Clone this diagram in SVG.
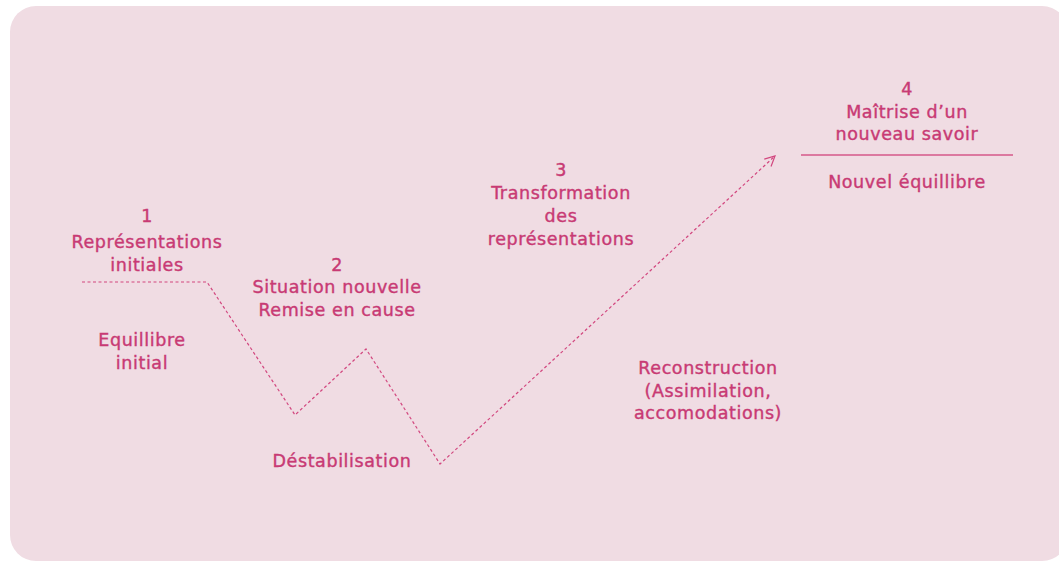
<svg xmlns="http://www.w3.org/2000/svg" width="1059" height="561" viewBox="0 0 1059 561">
  <style>
    .lbl { font-family: "DejaVu Sans", "Liberation Sans", sans-serif; font-size: 17.5px; font-weight: normal; letter-spacing: 0.6px; fill: #C83A74; stroke: #C83A74; stroke-width: 0.4px; text-anchor: middle; }
    .path { fill: none; stroke: #D2477F; stroke-width: 1.2; stroke-dasharray: 3 2.5; }
  </style>
  <defs>
    <marker id="arrow" viewBox="0 0 12 12" refX="11" refY="6" markerWidth="12" markerHeight="12" markerUnits="userSpaceOnUse" orient="auto">
      <path d="M1,1 L11,6 L1,11" fill="none" stroke="#D2477F" stroke-width="1.2"/>
    </marker>
  </defs>
  <rect id="panel" x="10" y="6" width="1058" height="555" rx="26" fill="#F0DCE3"/>

  <g id="connectors">
    <polyline class="path" points="82,282 207,282 295,415 366,349 440,464 775,156" marker-end="url(#arrow)"/>
    <line x1="801" y1="155" x2="1013" y2="155" stroke="#D6588A" stroke-width="1.5"/>
  </g>

  <g id="step1">
    <text class="lbl" x="147" y="222">1</text>
    <text class="lbl" x="147" y="248">Représentations</text>
    <text class="lbl" x="147" y="271">initiales</text>
  </g>
  <g id="equilibre-initial">
    <text class="lbl" x="142" y="346">Equillibre</text>
    <text class="lbl" x="142" y="369">initial</text>
  </g>
  <g id="step2">
    <text class="lbl" x="337" y="271">2</text>
    <text class="lbl" x="337" y="293">Situation nouvelle</text>
    <text class="lbl" x="337" y="316">Remise en cause</text>
  </g>
  <g id="destabilisation">
    <text class="lbl" x="342" y="467">Déstabilisation</text>
  </g>
  <g id="step3">
    <text class="lbl" x="561" y="176">3</text>
    <text class="lbl" x="561" y="199">Transformation</text>
    <text class="lbl" x="561" y="222">des</text>
    <text class="lbl" x="561" y="245">représentations</text>
  </g>
  <g id="reconstruction">
    <text class="lbl" x="708" y="374">Reconstruction</text>
    <text class="lbl" x="708" y="397">(Assimilation,</text>
    <text class="lbl" x="708" y="419">accomodations)</text>
  </g>
  <g id="step4">
    <text class="lbl" x="907" y="95">4</text>
    <text class="lbl" x="907" y="118">Maîtrise d’un</text>
    <text class="lbl" x="907" y="140">nouveau savoir</text>
    <text class="lbl" x="907" y="188">Nouvel équillibre</text>
  </g>
</svg>
